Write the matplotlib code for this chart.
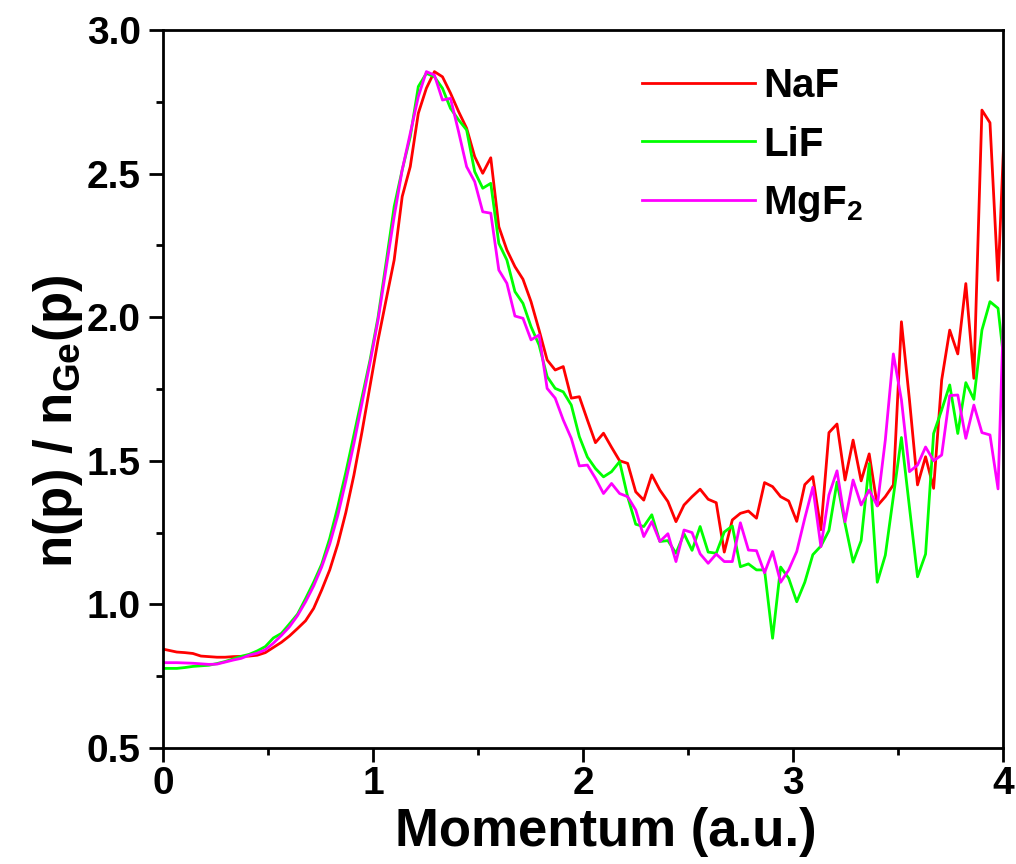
import numpy as np
from matplotlib import pyplot as plt
from matplotlib.ticker import MultipleLocator

# 字体设置
plt.rcParams['font.family'] = ['Liberation Sans', 'DejaVu Sans']
plt.rcParams['font.weight'] = 'bold'
plt.rcParams['mathtext.fontset'] = 'custom'
plt.rcParams['mathtext.bf'] = 'Liberation Sans:bold'
plt.rcParams['mathtext.rm'] = 'Liberation Sans:bold'
plt.rcParams['mathtext.default'] = 'bf'

# 动量采样网格 (a.u.)
momentum = np.round(np.arange(106) * 0.03834 - 0.011, 4)

# n(p) / n_Ge(p) 比值
naf = [
    0.846, 0.840, 0.834, 0.832, 0.829, 0.820, 0.818, 0.816, 0.816, 0.818,
    0.819, 0.820, 0.823, 0.832, 0.850, 0.868, 0.890, 0.916, 0.943, 0.986,
    1.050, 1.120, 1.210, 1.320, 1.450, 1.600, 1.760, 1.920, 2.060, 2.199,
    2.420, 2.524, 2.710, 2.797, 2.855, 2.837, 2.780, 2.716, 2.658, 2.559,
    2.501, 2.555, 2.315, 2.234, 2.176, 2.132, 2.054, 1.955, 1.851, 1.816,
    1.828, 1.718, 1.723, 1.642, 1.563, 1.596, 1.547, 1.500, 1.491, 1.392,
    1.363, 1.451, 1.398, 1.358, 1.288, 1.346, 1.375, 1.401, 1.366, 1.354,
    1.182, 1.294, 1.317, 1.325, 1.300, 1.424, 1.410, 1.375, 1.360, 1.289,
    1.417, 1.445, 1.260, 1.598, 1.628, 1.433, 1.572, 1.430, 1.524, 1.343,
    1.375, 1.416, 1.984, 1.712, 1.416, 1.514, 1.404, 1.781, 1.955, 1.872,
    2.117, 1.787, 2.721, 2.677, 2.128, 2.810,
]
lif = [
    0.777, 0.777, 0.777, 0.780, 0.784, 0.786, 0.788, 0.794, 0.801, 0.810,
    0.819, 0.826, 0.838, 0.853, 0.883, 0.899, 0.932, 0.966, 1.020, 1.077,
    1.140, 1.230, 1.340, 1.460, 1.590, 1.720, 1.850, 2.000, 2.190, 2.385,
    2.513, 2.628, 2.803, 2.849, 2.837, 2.797, 2.727, 2.687, 2.652, 2.507,
    2.449, 2.466, 2.257, 2.199, 2.089, 2.048, 1.967, 1.903, 1.793, 1.752,
    1.740, 1.694, 1.584, 1.513, 1.473, 1.444, 1.462, 1.497, 1.375, 1.279,
    1.271, 1.312, 1.219, 1.222, 1.178, 1.246, 1.188, 1.271, 1.182, 1.178,
    1.252, 1.273, 1.131, 1.141, 1.120, 1.120, 0.882, 1.130, 1.091, 1.009,
    1.077, 1.173, 1.203, 1.257, 1.426, 1.281, 1.147, 1.222, 1.490, 1.077,
    1.171, 1.375, 1.581, 1.338, 1.096, 1.175, 1.595, 1.677, 1.764, 1.595,
    1.772, 1.714, 1.955, 2.054, 2.031, 1.780,
]
mgf2 = [
    0.797, 0.797, 0.797, 0.796, 0.795, 0.793, 0.791, 0.792, 0.799, 0.806,
    0.812, 0.823, 0.830, 0.842, 0.865, 0.892, 0.922, 0.961, 1.009, 1.064,
    1.130, 1.210, 1.310, 1.430, 1.560, 1.700, 1.840, 1.990, 2.170, 2.350,
    2.513, 2.640, 2.768, 2.855, 2.843, 2.756, 2.762, 2.646, 2.524, 2.472,
    2.367, 2.362, 2.164, 2.118, 2.004, 1.996, 1.921, 1.938, 1.752, 1.718,
    1.642, 1.578, 1.482, 1.485, 1.439, 1.386, 1.421, 1.386, 1.375, 1.329,
    1.236, 1.288, 1.219, 1.246, 1.149, 1.259, 1.250, 1.176, 1.143, 1.175,
    1.149, 1.149, 1.284, 1.189, 1.187, 1.110, 1.184, 1.077, 1.120, 1.184,
    1.300, 1.408, 1.201, 1.381, 1.465, 1.288, 1.433, 1.346, 1.398, 1.343,
    1.572, 1.872, 1.712, 1.462, 1.485, 1.548, 1.500, 1.520, 1.727, 1.729,
    1.578, 1.694, 1.598, 1.590, 1.402, 2.300,
]

series_labels = ['NaF', 'LiF', r'MgF$_2$']
series_colors = ['#ff0000', '#00ff00', '#ff00ff']

fig = plt.figure(figsize = (10.16, 8.64), dpi = 100)
ax = fig.add_axes([0.1604, 0.1343, 0.8268, 0.8310])

for values, label, color in zip([naf, lif, mgf2], series_labels, series_colors):
    ax.plot(momentum, values, color = color, linewidth = 2.0, label = label)

ax.set_xlim(0, 4)
ax.set_ylim(0.5, 3.0)
ax.xaxis.set_major_locator(MultipleLocator(1))
ax.xaxis.set_minor_locator(MultipleLocator(0.5))
ax.yaxis.set_major_locator(MultipleLocator(0.5))
ax.yaxis.set_minor_locator(MultipleLocator(0.25))
ax.set_xticks([0, 1, 2, 3, 4])
ax.set_xticklabels(['0', '1', '2', '3', '4'])

# 坐标轴样式
for spine in ax.spines.values():
    spine.set_linewidth(2.0)
ax.tick_params(which = 'major', direction = 'out', length = 10, width = 2.0,
               labelsize = 28)
ax.tick_params(which = 'minor', direction = 'out', length = 5, width = 2.0)
ax.tick_params(axis = 'x', pad = 3)
ax.tick_params(axis = 'y', pad = 6)
ax.tick_params(top = False, right = False, which = 'both')

ax.set_xlabel('Momentum (a.u.)', fontsize = 38, fontweight = 'bold')
ax.set_ylabel(r'n(p) / n$_{Ge}$(p)', fontsize = 38, fontweight = 'bold')
ax.xaxis.set_label_coords(0.527, -0.082)
ax.yaxis.set_label_coords(-0.093, 0.455)

leg = ax.legend(loc = 'upper left', bbox_to_anchor = (0.570, 0.949), frameon = False,
                fontsize = 29, handlelength = 2.8, handletextpad = 0.22,
                labelspacing = 0.52, borderpad = 0, borderaxespad = 0)
for line in leg.get_lines():
    line.set_linewidth(2.0)

fig.savefig('out.png', dpi = 100)
